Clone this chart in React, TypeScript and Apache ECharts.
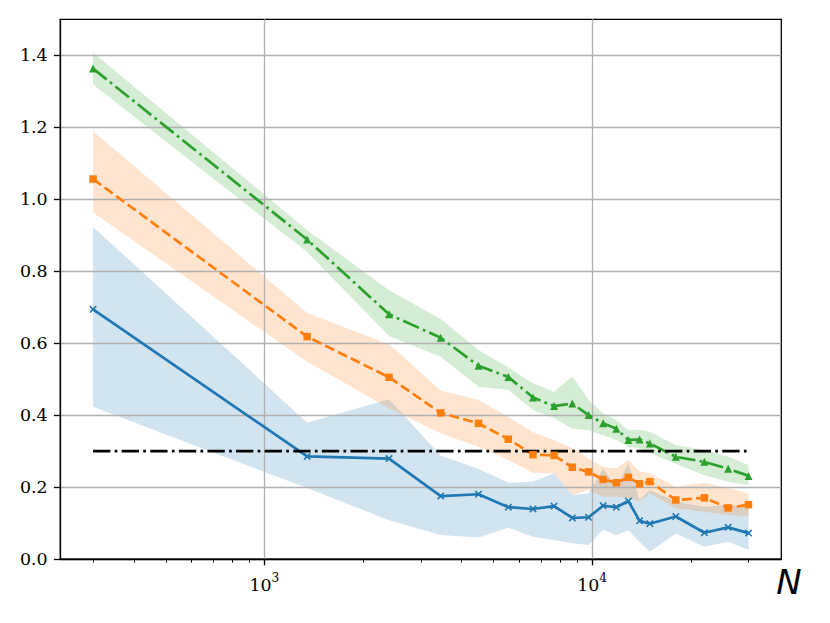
import React, { useEffect, useRef } from 'react';
import * as echarts from 'echarts';

// ---- data ----
const N_VALUES = [300, 1350, 2400, 3450, 4500, 5550, 6600, 7650, 8700, 9750, 10800, 11850, 12900, 13950, 15000, 18000, 22000, 26000, 30000];

const BLUE_MEAN = [0.694, 0.285, 0.279, 0.175, 0.180, 0.144, 0.139, 0.147, 0.114, 0.116, 0.148, 0.144, 0.161, 0.106, 0.098, 0.118, 0.073, 0.088, 0.072];
const BLUE_LOW = [0.423, 0.197, 0.108, 0.067, 0.060, 0.087, 0.062, 0.053, 0.044, 0.039, 0.081, 0.067, 0.080, 0.048, 0.020, 0.071, 0.034, 0.048, 0.025];
const BLUE_HIGH = [0.923, 0.379, 0.444, 0.288, 0.250, 0.212, 0.215, 0.238, 0.178, 0.182, 0.252, 0.200, 0.266, 0.164, 0.192, 0.159, 0.145, 0.150, 0.145];

const ORANGE_MEAN = [1.056, 0.618, 0.505, 0.406, 0.377, 0.333, 0.290, 0.288, 0.255, 0.242, 0.221, 0.212, 0.227, 0.209, 0.215, 0.164, 0.170, 0.142, 0.151];
const ORANGE_LOW = [0.963, 0.548, 0.419, 0.349, 0.312, 0.275, 0.239, 0.238, 0.178, 0.192, 0.173, 0.173, 0.170, 0.160, 0.183, 0.141, 0.131, 0.122, 0.119];
const ORANGE_HIGH = [1.189, 0.684, 0.597, 0.468, 0.442, 0.395, 0.352, 0.331, 0.308, 0.280, 0.256, 0.252, 0.275, 0.243, 0.238, 0.201, 0.212, 0.197, 0.182];

const GREEN_MEAN = [1.363, 0.888, 0.680, 0.615, 0.537, 0.506, 0.449, 0.425, 0.432, 0.400, 0.377, 0.362, 0.331, 0.332, 0.321, 0.284, 0.270, 0.251, 0.231];
const GREEN_LOW = [1.319, 0.853, 0.620, 0.562, 0.479, 0.470, 0.414, 0.392, 0.362, 0.358, 0.344, 0.331, 0.312, 0.308, 0.294, 0.265, 0.233, 0.215, 0.206];
const GREEN_HIGH = [1.408, 0.914, 0.747, 0.667, 0.581, 0.532, 0.488, 0.465, 0.508, 0.442, 0.405, 0.386, 0.358, 0.360, 0.354, 0.317, 0.303, 0.284, 0.261];

const THRESHOLD = 0.3;

const X_MIN = 238.3;
const X_MAX = 37768;
const X_MAJOR_TICKS = [1000, 10000];
const X_MINOR_TICKS = [300, 400, 500, 600, 700, 800, 900, 2000, 3000, 4000, 5000, 6000, 7000, 8000, 9000, 20000, 30000];
const Y_TICKS = [0, 0.2, 0.4, 0.6, 0.8, 1.0, 1.2, 1.4];

const X_MARKER = 'path://M0,1.5L1.5,0L5,3.5L8.5,0L10,1.5L6.5,5L10,8.5L8.5,10L5,6.5L1.5,10L0,8.5L3.5,5Z';

const SERIF = 'DejaVu Serif';

function band(lo: number[], hi: number[], fill: string) {
  return {
    type: 'custom',
    z: -1,
    silent: true,
    clip: true,
    data: N_VALUES.map((x, i) => [x, lo[i], hi[i]]),
    encode: { x: 0, y: [1, 2] },
    renderItem: (params: any, api: any) => {
      if (params.dataIndex !== 0) return null;
      const top = N_VALUES.map((x, i) => api.coord([x, hi[i]]));
      const bottom = N_VALUES.map((x, i) => api.coord([x, lo[i]])).reverse();
      return {
        type: 'polygon',
        shape: { points: top.concat(bottom) },
        style: { fill, stroke: 'none' },
      };
    },
  };
}

function pairs(ys: number[]) {
  return N_VALUES.map((x, i) => [x, ys[i]]);
}

export default function App() {
  const ref = useRef<HTMLDivElement>(null);

  useEffect(() => {
    if (!ref.current) return;
    const chart = echarts.init(ref.current, null, { renderer: 'svg' });
    const axisLineStyle = { color: '#000', width: 1.3 };
    const option: any = {
      animation: false,
      backgroundColor: '#fff',
      grid: {
        left: 60.3,
        right: 48.7,
        top: 19.3,
        bottom: 64,
        show: true,
        borderColor: '#000',
        borderWidth: 1.3,
        backgroundColor: 'transparent',
      },
      xAxis: [
        {
          type: 'log',
          logBase: 10,
          min: X_MIN,
          max: X_MAX,
          position: 'bottom',
          axisLine: { show: true, lineStyle: axisLineStyle },
          axisTick: { show: true, customValues: X_MAJOR_TICKS, length: 6.3, lineStyle: axisLineStyle },
          minorTick: { show: false },
          axisLabel: {
            customValues: X_MAJOR_TICKS,
            margin: 12.6,
            formatter: (v: number) => `{b|10}{s|${Math.round(Math.log10(v))}}`,
            rich: {
              b: { fontFamily: SERIF, fontSize: 17.4, color: '#000', lineHeight: 22, verticalAlign: 'bottom' },
              s: { fontFamily: SERIF, fontSize: 12.2, color: '#000', lineHeight: 12, verticalAlign: 'top' },
            },
          },
          splitLine: { show: true, lineStyle: { color: '#b0b0b0', width: 1.3 } },
        },
        {
          type: 'log',
          logBase: 10,
          min: X_MIN,
          max: X_MAX,
          position: 'bottom',
          axisLine: { show: false },
          axisTick: { show: true, customValues: X_MINOR_TICKS, length: 3.6, lineStyle: { color: '#000', width: 1.05 } },
          axisLabel: { show: false },
          splitLine: { show: false },
          minorTick: { show: false },
        },
      ],
      yAxis: {
        type: 'value',
        min: 0,
        max: 1.5,
        interval: 0.2,
        axisLine: { show: true, lineStyle: axisLineStyle },
        axisTick: { show: true, customValues: Y_TICKS, length: 6.3, lineStyle: axisLineStyle },
        axisLabel: {
          customValues: Y_TICKS,
          margin: 12.6,
          formatter: (v: number) => v.toFixed(1),
          fontFamily: SERIF,
          fontSize: 17.4,
          color: '#000',
        },
        splitLine: { show: true, lineStyle: { color: '#b0b0b0', width: 1.3 } },
      },
      graphic: [
        {
          type: 'text',
          x: 789,
          y: 582,
          style: {
            text: 'N',
            fontFamily: 'DejaVu Sans',
            fontStyle: 'italic',
            fontSize: 34,
            fill: '#000',
            align: 'center',
            verticalAlign: 'middle',
          },
        },
      ],
      series: [
        band(BLUE_LOW, BLUE_HIGH, 'rgba(31,119,180,0.2)'),
        band(ORANGE_LOW, ORANGE_HIGH, 'rgba(255,127,14,0.2)'),
        band(GREEN_LOW, GREEN_HIGH, 'rgba(44,160,44,0.2)'),
        {
          type: 'line',
          data: pairs(BLUE_MEAN),
          lineStyle: { color: '#1f77b4', width: 2.7 },
          itemStyle: { color: '#1f77b4' },
          symbol: X_MARKER,
          symbolSize: 7.5,
          showSymbol: true,
          silent: true,
        },
        {
          type: 'line',
          data: pairs(ORANGE_MEAN),
          lineStyle: { color: '#ff7f0e', width: 2.7, type: [10, 4.3] },
          itemStyle: { color: '#ff7f0e' },
          symbol: 'rect',
          symbolSize: 7.5,
          showSymbol: true,
          silent: true,
        },
        {
          type: 'line',
          data: pairs(GREEN_MEAN),
          lineStyle: { color: '#2ca02c', width: 2.7, type: [17.3, 4.3, 2.7, 4.3] },
          itemStyle: { color: '#2ca02c' },
          symbol: 'triangle',
          symbolSize: 8,
          showSymbol: true,
          silent: true,
        },
        {
          type: 'line',
          data: [[N_VALUES[0], THRESHOLD], [N_VALUES[N_VALUES.length - 1], THRESHOLD]],
          lineStyle: { color: '#000', width: 2.7, type: [17.3, 4.3, 2.7, 4.3] },
          symbol: 'none',
          silent: true,
        },
      ],
    };
    chart.setOption(option);
    return () => chart.dispose();
  }, []);

  return (
    <div
      ref={ref}
      style={{ position: 'fixed', left: 0, top: 0, width: 830, height: 623, background: '#fff' }}
    />
  );
}
